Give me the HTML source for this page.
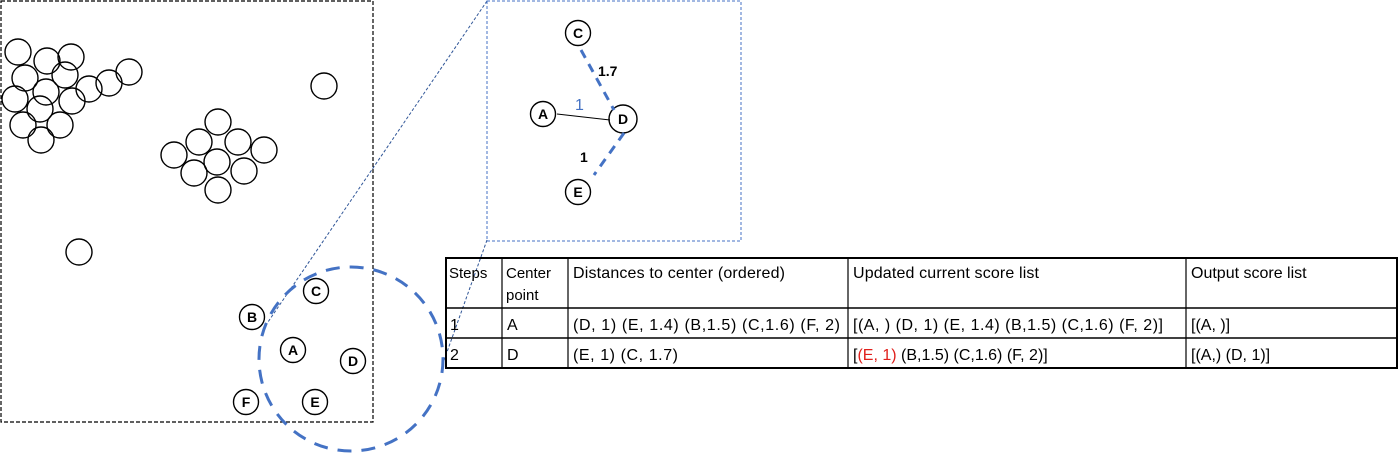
<!DOCTYPE html>
<html><head><meta charset="utf-8"><style>
html,body{margin:0;padding:0;background:#fff;width:1400px;height:455px;overflow:hidden}
svg{display:block;font-family:"Liberation Sans",sans-serif}
</style></head><body>
<svg width="1400" height="455" viewBox="0 0 1400 455">
<rect x="1" y="1" width="372" height="421" fill="none" stroke="#000" stroke-width="1.2" stroke-dasharray="4,2"/>
<g id="pts" fill="none" stroke="#000" stroke-width="1.4"></g>
<line x1="487" y1="1" x2="268" y2="322" stroke="#2f5597" stroke-width="1" stroke-dasharray="3,2"/>
<line x1="487" y1="240" x2="442" y2="366" stroke="#2f5597" stroke-width="1" stroke-dasharray="3,2"/>
<circle cx="351" cy="359" r="92" fill="none" stroke="#4472c4" stroke-width="3" stroke-dasharray="14,10"/>
<g id="lab"></g>
<rect x="487" y="1" width="254" height="240" fill="none" stroke="#4472c4" stroke-width="1" stroke-dasharray="3,2"/>
<line x1="557" y1="114" x2="610" y2="120" stroke="#000" stroke-width="1"/>
<line x1="581" y1="50" x2="614" y2="110" stroke="#4472c4" stroke-width="3" stroke-dasharray="9,7"/>
<line x1="624" y1="133" x2="594" y2="175" stroke="#4472c4" stroke-width="3" stroke-dasharray="9,7"/>
<text x="598" y="76" font-size="14" font-weight="bold">1.7</text>
<text x="575" y="110" font-size="16" fill="#4472c4">1</text>
<text x="580" y="162" font-size="14" font-weight="bold">1</text>
<g font-size="16">
<rect x="446" y="258" width="951" height="110" fill="none" stroke="#000" stroke-width="2"/>
<line x1="446" y1="308" x2="1397" y2="308" stroke="#000" stroke-width="1.5"/>
<line x1="446" y1="338" x2="1397" y2="338" stroke="#000" stroke-width="1.5"/>
<line x1="502" y1="258" x2="502" y2="368" stroke="#000" stroke-width="1.2"/>
<line x1="568" y1="258" x2="568" y2="368" stroke="#000" stroke-width="1.2"/>
<line x1="848" y1="258" x2="848" y2="368" stroke="#000" stroke-width="1.2"/>
<line x1="1186" y1="258" x2="1186" y2="368" stroke="#000" stroke-width="1.2"/>
<text x="449" y="278" font-size="15">Steps</text>
<text x="506" y="278" font-size="15">Center</text><text x="506" y="300" font-size="15">point</text>
<text x="573" y="278" textLength="212">Distances to center (ordered)</text>
<text x="853" y="278" textLength="186">Updated current score list</text>
<text x="1191" y="278">Output score list</text>
<text x="450" y="330">1</text><text x="507" y="330">A</text>
<text x="573" y="330" textLength="267">(D, 1) (E, 1.4) (B,1.5) (C,1.6) (F, 2)</text>
<text x="853" y="330" textLength="310">[(A, ) (D, 1) (E, 1.4) (B,1.5) (C,1.6) (F, 2)]</text>
<text x="1191" y="330">[(A, )]</text>
<text x="450" y="360">2</text><text x="507" y="360">D</text>
<text x="573" y="360" textLength="105">(E, 1) (C, 1.7)</text>
<text x="853" y="360">[<tspan fill="#e0201c">(E, 1)</tspan> (B,1.5) (C,1.6) (F, 2)]</text>
<text x="1191" y="360">[(A,) (D, 1)]</text>
</g>
</svg>
<script>
const pointX=[18,47,71,25,65,46,15,40,72,89,109,129,23,60,41,324,218,199,238,174,217,264,194,244,218,79];
const pointY=[52,61,57,78,75,92,99,109,101,89,83,72,125,125,140,86,122,142,142,155,162,150,173,171,190,252];
const labelNames=['B','C','A','D','F','E','C','A','D','E'];
const labelX=[252,316,293,353,246,315,578,543,623,578];
const labelY=[317,291,350,361,402,402,33,114,119,192];
const NS='http://www.w3.org/2000/svg';
const g=document.getElementById('pts');
pointX.forEach((x,i)=>{const c=document.createElementNS(NS,'circle');
c.setAttribute('cx',x);c.setAttribute('cy',pointY[i]);c.setAttribute('r',13);


g.appendChild(c);});
const lg=document.getElementById('lab');
labelNames.forEach((n,i)=>{const c=document.createElementNS(NS,'circle');
c.setAttribute('cx',labelX[i]);c.setAttribute('cy',labelY[i]);c.setAttribute('r',i==8?14:12.5);
c.setAttribute('fill','#fff');c.setAttribute('stroke','#000');c.setAttribute('stroke-width','1.4');


lg.appendChild(c);
const t=document.createElementNS(NS,'text');t.setAttribute('x',labelX[i]);t.setAttribute('y',labelY[i]+5);
t.setAttribute('text-anchor','middle');t.setAttribute('font-size','14');t.setAttribute('font-weight','bold');t.textContent=n;


lg.appendChild(t);});
</script>
</body></html>
